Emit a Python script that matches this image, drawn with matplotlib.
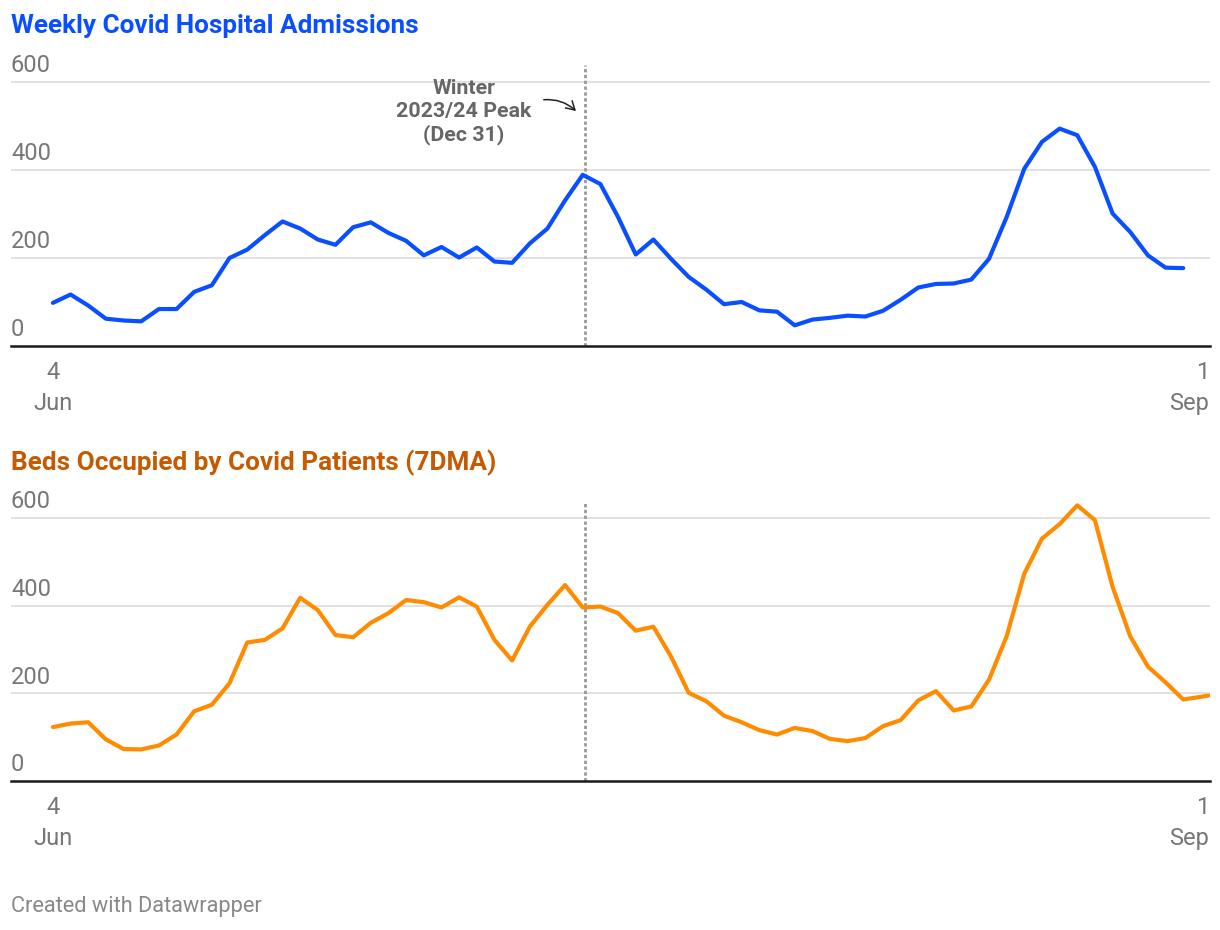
import matplotlib
matplotlib.use("Agg")
import matplotlib.pyplot as plt
import pandas as pd

plt.rcParams['font.family'] = ['Roboto', 'DejaVu Sans']

# weekly admissions, week starting Jun 4 2023
admissions = [98, 117, 92, 62, 58, 56, 84, 84, 123, 138,
              200, 219, 252, 283, 267, 242, 230, 270, 281, 257,
              239, 206, 225, 201, 224, 192, 189, 233, 267, 331,
              389, 368, 293, 208, 242, 198, 157, 128, 95, 100,
              81, 78, 47, 60, 64, 69, 67, 80, 105, 133,
              141, 142, 151, 198, 293, 403, 464, 494, 479, 407,
              301, 259, 206, 178, 177]

# beds occupied (7 day moving average), sampled weekly + last day
beds = [123, 131, 134, 95, 73, 72, 81, 106, 159, 174,
        223, 316, 322, 348, 418, 390, 333, 328, 361, 383,
        413, 408, 396, 419, 398, 322, 275, 352, 402, 447,
        396, 398, 383, 343, 352, 284, 201, 182, 149, 134,
        116, 106, 121, 114, 96, 91, 98, 125, 139, 184,
        205, 161, 170, 231, 330, 473, 553, 586, 629, 595,
        443, 330, 261, 225, 186, 192, 195]

adm_dates = pd.date_range("2023-06-04", periods=len(admissions), freq="7D")
bed_dates = list(pd.date_range("2023-06-04", periods=len(beds) - 1, freq="7D")) + [pd.Timestamp("2024-09-04")]

peak_date = pd.Timestamp("2023-12-31")
tick_dates = [pd.Timestamp("2023-06-04"), pd.Timestamp("2024-09-01")]
tick_labels = [("4", "Jun"), ("1", "Sep")]
yticks = [0, 200, 400, 600]

W, H = 1220, 930
fig = plt.figure(figsize=(12.2, 9.3), dpi=100)

grey_text = "#777777"
xmin = pd.Timestamp("2023-06-04") - pd.Timedelta(days=16.6)
xmax = pd.Timestamp("2024-09-01") + pd.Timedelta(days=3.6)


def panel(top_px, bottom_px, ymax, dates, values, color, title, title_color, title_y):
    ax = fig.add_axes([11 / W, 1 - bottom_px / H, 1199 / W, (bottom_px - top_px) / H])
    ax.plot(dates, values, color=color, lw=3.0, solid_joinstyle="round",
            solid_capstyle="round", zorder=3)
    ax.set_xlim(xmin, xmax)
    ax.set_ylim(0, ymax)
    for v in yticks[1:]:
        ax.axhline(v, color="#e1e1e1", lw=1.4, zorder=1)
    ax.axhline(0, color="#1a1a1a", lw=1.8, zorder=4, clip_on=False)
    for v in yticks:
        ax.annotate(str(v), xy=(0, v), xycoords=("axes fraction", "data"),
                    xytext=(0, 7), textcoords="offset points",
                    ha="left", va="baseline", fontsize=17, color=grey_text)
    ax.axvline(peak_date + pd.Timedelta(days=0.8), color="#999999", lw=2.0,
               linestyle=(0, (1.2, 0.9)), zorder=2)
    for d, (num, mon), ha in zip(tick_dates, tick_labels, ["center", "right"]):
        dx = 0 if ha == "center" else 6
        ax.annotate(num + "\n" + mon, xy=(d, 0), xycoords=("data", "axes fraction"),
                    xytext=(dx, -11), textcoords="offset points",
                    ha=ha, va="top", fontsize=17, color=grey_text,
                    linespacing=1.42, multialignment=ha)
    for s in ax.spines.values():
        s.set_visible(False)
    ax.set_xticks([])
    ax.set_yticks([])
    ax.patch.set_alpha(0)
    fig.text(11 / W, 1 - title_y / H, title, fontsize=18.8, fontweight="bold",
             color=title_color, ha="left", va="baseline")
    return ax


ax1 = panel(65, 346, 281 / 0.44, adm_dates, admissions, "#0a4fff",
            "Weekly Covid Hospital Admissions", "#0a4fff", 33)
ax2 = panel(502, 781, 279 / 0.4383, bed_dates, beds, "#ff8c00",
            "Beds Occupied by Covid Patients (7DMA)", "#c55a00", 470)

# annotation of winter peak
fig.text(464 / W, 1 - 79 / H, "Winter\n2023/24 Peak\n(Dec 31)", fontsize=15.4,
         fontweight="bold", color="#666666", ha="center", va="top", linespacing=1.25)
fig.add_artist(matplotlib.patches.FancyArrowPatch(
    (541 / W, 1 - 100 / H), (578 / W, 1 - 113 / H), transform=fig.transFigure,
    arrowstyle="->,head_length=6,head_width=3.5", connectionstyle="arc3,rad=-0.25",
    color="#222222", lw=1.1))

fig.text(11 / W, 1 - 912 / H, "Created with Datawrapper", fontsize=15.7,
         color="#888888", ha="left", va="baseline")

fig.savefig("out.png", dpi=100, facecolor="white")
